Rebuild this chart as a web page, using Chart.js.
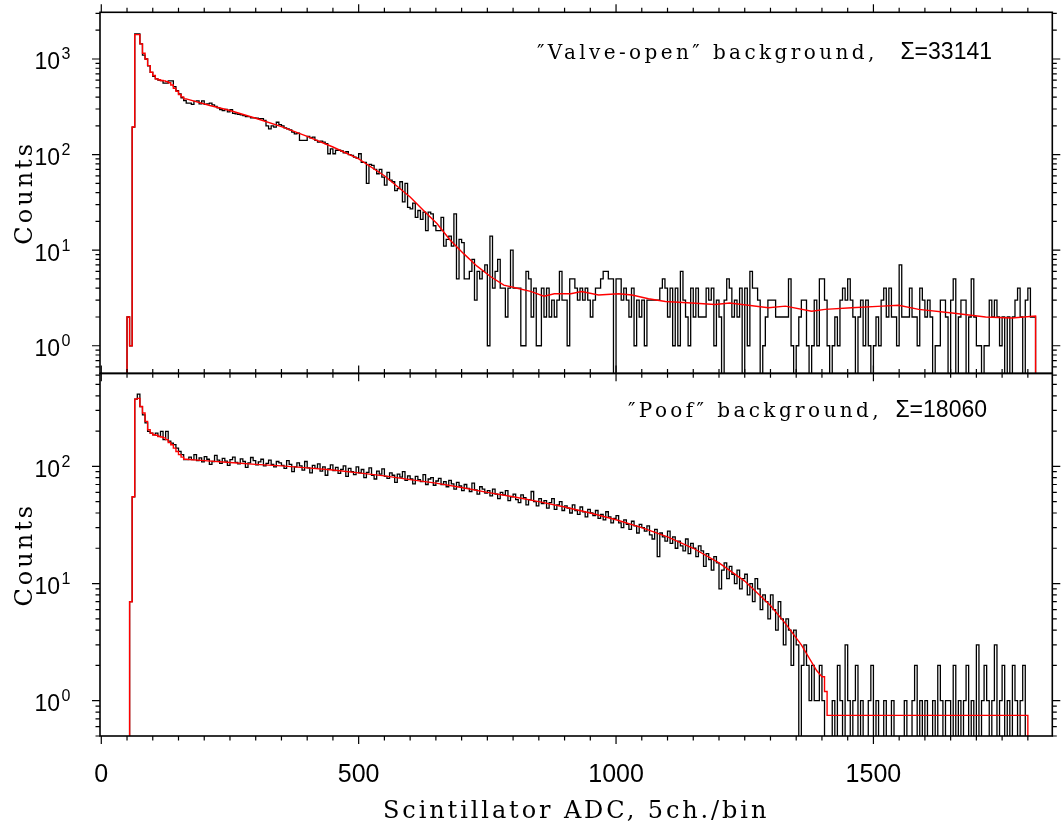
<!DOCTYPE html>
<html>
<head>
<meta charset="utf-8">
<title>Scintillator ADC background spectra</title>
<script src="https://cdn.jsdelivr.net/npm/chart.js@4.4.1/dist/chart.umd.min.js"></script>
<style>
  html, body { margin: 0; padding: 0; background: #fff; }
  #wrap { position: relative; width: 1063px; height: 826px; }
  #wrap canvas { position: absolute; left: 0; top: 0; }
</style>
</head>
<body>
<div id="wrap">
  <canvas id="valveChart" width="1063" height="826"></canvas>
  <canvas id="poofChart" width="1063" height="826"></canvas>
</div>
<script>
// histogram binning (ADC channels, 5 ch per bin)
const binStart = 50;
const binWidth = 5;
// log axis can't show 0, empty bins are drawn below the axis and clipped
const zeroFloor = 0.1;

const xTickValues = [0, 500, 1000, 1500];
const xTitle = 'Scintillator ADC, 5ch./bin';
const yTitle = 'Counts';

const valveLabel = '″Valve-open″ background,';
const valveSum = 'Σ=33141';
const poofLabel = '″Poof″ background,';
const poofSum = 'Σ=18060';

// "Valve-open" background, counts per bin starting at ADC 50
const valveCounts = [
  2, 1, 194, 1830, 1830, 1440, 1100, 1000, 850, 725,
  660, 620, 600, 595, 560, 560, 590, 590, 515, 467,
  432, 393, 368, 346, 346, 335, 360, 365, 340, 365,
  335, 340, 346, 331, 320, 309, 295, 289, 297, 280,
  295, 270, 267, 263, 260, 256, 250, 250, 242, 242,
  240, 238, 238, 228, 200, 186, 200, 194, 218, 206,
  200, 190, 186, 181, 172, 165, 168, 141, 141, 141,
  155, 150, 152, 141, 135, 138, 135, 130, 102, 115,
  102, 111, 111, 109, 104, 107, 100, 98, 94, 92,
  102, 83, 83, 50, 79, 77, 70, 63, 70, 58,
  48, 65, 54, 52, 42, 44, 52, 32, 50, 28,
  27, 31,
  22, 26, 21, 25, 16, 25, 24, 18, 16, 16,
  22, 11, 13, 14, 11, 24, 5, 13, 12, 5,
  5, 6, 8, 3, 6, 5, 6, 7, 1, 14,
  4, 6, 8, 4, 4, 2, 4, 10, 4, 4,
  4, 1, 1, 6, 5, 2, 4, 1, 1, 4,
  2, 4, 2, 3, 2, 3, 6, 3, 3, 1,
  5, 5, 4, 3, 4, 3, 4, 3, 2, 3,
  4, 4, 5, 6, 6, 5, 5, 0, 5, 5,
  3, 4, 3, 2, 4, 1, 3, 2, 3, 1,
  3, 3, 3, 3, 3, 4, 5, 4, 2, 4,
  1, 4, 1, 6, 3, 2, 1, 4, 2, 4,
  2, 2, 2, 4, 3, 4, 1, 3, 2, 0,
  3, 5,
  4, 2, 3, 2, 4, 0, 4, 1, 6, 4,
  4, 3, 0, 1, 2, 3, 3, 3, 2, 2,
  2, 2, 2, 5, 1, 0, 1, 2, 3, 3,
  1, 0, 1, 3, 1, 5, 5, 3, 1, 0,
  1, 2, 1, 3, 4, 3, 5, 3, 2, 0,
  2, 3, 1, 3, 1, 0, 1, 2, 1, 3,
  4, 2,
  4, 2, 2, 1, 7, 2, 2, 2, 4, 2,
  2, 1, 4, 3, 2, 3, 2, 0, 1, 1,
  3, 3, 2, 0, 3, 5, 0, 2, 3, 3,
  0, 2, 5, 2, 1, 1, 0, 1, 1, 3,
  2, 3, 2, 1, 2, 0, 2, 0, 2, 3,
  4, 2, 0, 3, 4, 2, 2
];
// fit: per-bin values over the edge, then sampled points
const valveFitHead = [2, 1, 194, 1800, 1800, 1440, 1150, 1000, 853, 727, 671, 619, 606, 595, 590, 580, 565, 535, 495, 460, 425, 402, 383];
const valveFitX = [165, 211, 250, 300, 350, 400, 450, 500, 550, 600, 626, 652, 678, 704, 730, 756, 782, 808, 834, 860, 880, 912, 933, 966, 1005, 1031, 1063, 1096, 1147, 1192, 1221, 1296, 1329, 1380, 1406, 1458, 1517, 1549, 1588, 1653, 1718, 1769, 1815, 1815];
const valveFitY = [383, 326, 289, 240, 196, 155, 120, 90, 60, 36, 26, 19, 12.7, 9.2, 6.8, 5.3, 4.3, 4.0, 3.7, 3.3, 3.5, 3.5, 3.7, 3.4, 3.5, 3.4, 3.1, 2.9, 2.8, 2.7, 2.8, 2.5, 2.6, 2.3, 2.4, 2.5, 2.6, 2.65, 2.4, 2.2, 2.0, 1.95, 2.05, 0];

// "Poof" background
const poofCounts = [
  0, 7, 55, 375, 414, 324, 275, 235, 199, 192,
  186, 192, 180, 199, 169, 199, 164, 158, 153, 143,
  134, 126, 114, 114, 120, 114, 126,
  112, 118, 109, 121, 115, 104, 110, 124, 113, 106,
  117, 111, 102, 114, 120, 108, 105, 116, 110, 98,
  107, 119, 112, 103, 109, 115, 101, 106, 113, 104,
  99, 110, 107, 102,
  96, 112, 104, 90, 99, 107, 101, 93, 110, 97,
  88, 102, 96, 105, 91, 99, 84, 95, 103, 92,
  98, 87, 94, 101, 82, 96, 90, 85, 99, 88,
  94, 80, 89, 97, 84, 78, 91, 86, 95, 82,
  79, 88, 84, 73, 86, 81, 90, 76, 83, 78,
  71, 82, 77, 74, 85, 70, 78, 80, 69, 75,
  79, 70, 74, 67, 76, 71, 64, 73, 68, 62,
  70, 65, 61, 72, 63, 58, 67, 64, 59, 62,
  56, 64, 58, 53, 60, 57, 62, 51, 55, 58,
  52, 49, 57, 54, 47, 52, 61, 50, 46, 53,
  48, 51, 44, 49, 53, 43, 47, 50, 42, 46,
  44, 40, 47, 42, 39, 45, 41, 37, 43, 40,
  38, 42, 36, 39, 35, 41, 37, 33, 36, 38,
  33, 30, 35, 32, 29, 34, 31, 27, 32, 30,
  28, 31, 26, 24, 29, 17, 27, 25, 23, 28,
  22, 25, 20, 23, 21, 19, 24, 18, 22, 20,
  17, 21, 19, 14, 18, 16, 13, 17, 15, 9,
  13, 15, 11, 14, 12, 10, 13, 9, 11, 12,
  8, 10, 7, 11, 9, 6, 8, 7, 5, 8,
  6, 4, 7, 5, 3, 5, 4, 2, 4, 3,
  0, 2, 3, 2, 1, 2, 1, 1, 2, 1, 0, 0,
  0, 1, 0, 2, 1, 0, 3, 1, 0, 1,
  2, 0, 1, 0, 0, 1, 2, 0, 1, 0,
  0, 1, 0, 0, 1, 0, 0, 0, 0, 1,
  0, 0, 1, 2, 0, 1, 0, 1, 0, 0,
  1, 0, 2, 1, 0, 1, 1, 0, 2, 0,
  1, 0, 1, 2, 0, 1, 0, 3, 0, 1,
  2, 1, 0, 1, 3, 0, 1, 2, 0, 1,
  0, 2, 1, 0, 1, 2, 0
];
const poofFitHead = [0, 7, 55, 375, 380, 324, 285, 242, 205, 192, 186, 184, 180, 178, 175, 169, 160, 153, 143, 134, 126, 120, 115];
const poofFitX = [165, 200, 250, 300, 350, 400, 450, 500, 550, 600, 650, 700, 750, 800, 850, 900, 950, 1000, 1050, 1100, 1150, 1200, 1250, 1300, 1330, 1360, 1390, 1400, 1405, 1405, 1410, 1410, 1800, 1800];
const poofFitY = [115, 112, 108, 104, 101, 97, 93, 88, 83, 77, 72, 66, 60, 55, 50, 45, 40, 35, 30, 25, 20, 15, 10.5, 6.5, 4.5, 3, 1.8, 1.6, 1.6, 1.2, 1.2, 0.75, 0.75, 0];

function floorZero(v) {
  return v > 0 ? v : zeroFloor;
}

function histPoints(counts) {
  const pts = [{x: binStart, y: zeroFloor}];
  counts.forEach((c, i) => pts.push({x: binStart + i * binWidth, y: floorZero(c)}));
  const end = binStart + counts.length * binWidth;
  pts.push({x: end, y: floorZero(counts[counts.length - 1])});
  pts.push({x: end, y: zeroFloor});
  return pts;
}

function fitPoints(head, xs, ys) {
  const pts = [{x: binStart, y: zeroFloor}];
  head.forEach((v, i) => {
    pts.push({x: binStart + i * binWidth, y: floorZero(v)});
    pts.push({x: binStart + (i + 1) * binWidth, y: floorZero(v)});
  });
  xs.forEach((x, i) => pts.push({x: x, y: floorZero(ys[i])}));
  return pts;
}

const SERIF = '"DejaVu Serif", serif';
const SANS = '"Liberation Sans", Arial, sans-serif';

// frame with outward ticks on all four sides, plus the texts
const framePlugin = {
  id: 'frame',
  afterDatasetsDraw(chart, args, opts) {
    const ctx = chart.ctx;
    const a = chart.chartArea;
    const xs = chart.scales.x;
    const ys = chart.scales.y;
    ctx.save();
    ctx.strokeStyle = '#000';
    ctx.fillStyle = '#000';
    ctx.lineWidth = 1.6;
    ctx.strokeRect(a.left, a.top, a.right - a.left, a.bottom - a.top);

    ctx.lineWidth = 1.2;
    ctx.beginPath();
    for (let v = 0; v <= xs.max; v += 50) {
      const px = xs.getPixelForValue(v);
      const len = v % 500 === 0 ? 8 : 4.5;
      ctx.moveTo(px, a.bottom); ctx.lineTo(px, a.bottom + len);
      ctx.moveTo(px, a.top); ctx.lineTo(px, a.top - len);
    }
    const dLo = Math.floor(Math.log10(ys.min));
    const dHi = Math.ceil(Math.log10(ys.max));
    for (let d = dLo; d <= dHi; d++) {
      for (let m = 1; m <= 9; m++) {
        const v = m * Math.pow(10, d);
        if (v < ys.min || v > ys.max) continue;
        const py = ys.getPixelForValue(v);
        const len = m === 1 ? 8 : 4.5;
        ctx.moveTo(a.left, py); ctx.lineTo(a.left - len, py);
        ctx.moveTo(a.right, py); ctx.lineTo(a.right + len, py);
      }
    }
    ctx.stroke();

    // y labels 10^n
    for (let d = dLo; d <= dHi; d++) {
      const v = Math.pow(10, d);
      if (v < ys.min || v > ys.max) continue;
      const py = ys.getPixelForValue(v);
      ctx.textAlign = 'right';
      ctx.font = '23px ' + SANS;
      ctx.fillText('10', a.left - 40, py + 10.5);
      ctx.textAlign = 'left';
      ctx.font = '16px ' + SANS;
      ctx.fillText(String(d), a.left - 38.5, py + 0.5);
    }

    // y title
    ctx.save();
    ctx.translate(32, (a.top + a.bottom) / 2);
    ctx.rotate(-Math.PI / 2);
    ctx.textAlign = 'center';
    ctx.font = '24px ' + SERIF;
    ctx.letterSpacing = '3px';
    ctx.fillText(yTitle, 0, 0);
    ctx.restore();

    // x labels + title
    if (opts.xLabels) {
      ctx.textAlign = 'center';
      ctx.font = '25px ' + SANS;
      xTickValues.forEach(v => ctx.fillText(String(v), xs.getPixelForValue(v), a.bottom + 46));
      ctx.font = '24px ' + SERIF;
      ctx.letterSpacing = '2.9px';
      ctx.fillText(xTitle, (a.left + a.right) / 2, a.bottom + 82);
      ctx.letterSpacing = '0px';
    }

    // annotation
    ctx.textAlign = 'left';
    ctx.font = '20px ' + SERIF;
    ctx.letterSpacing = '3.4px';
    ctx.fillText(opts.note, opts.noteLeft, opts.noteBase);
    ctx.letterSpacing = '0px';
    ctx.textAlign = 'right';
    ctx.font = '23px ' + SANS;
    ctx.fillText(opts.sum, opts.noteRight, opts.noteBase);
    ctx.restore();
  }
};

function makeChart(id, counts, fit, yMin, yMax, padding, frameOpts) {
  return new Chart(document.getElementById(id), {
    type: 'line',
    data: {
      datasets: [{
        label: 'fit',
        data: fit,
        borderColor: '#ff0000',
        borderWidth: 1.4,
        pointRadius: 0,
        tension: 0,
        fill: false
      }, {
        label: 'data',
        data: counts,
        borderColor: '#000000',
        borderWidth: 1.3,
        pointRadius: 0,
        stepped: true,
        fill: false
      }]
    },
    options: {
      responsive: false,
      animation: false,
      events: [],
      layout: { padding: padding },
      plugins: {
        legend: { display: false },
        tooltip: { enabled: false },
        frame: frameOpts
      },
      scales: {
        x: { type: 'linear', min: -2.5, max: 1847.5, display: false },
        y: { type: 'logarithmic', min: yMin, max: yMax, display: false }
      }
    },
    plugins: [framePlugin]
  });
}

makeChart('valveChart', histPoints(valveCounts), fitPoints(valveFitHead, valveFitX, valveFitY),
  0.515, 3080,
  { left: 100, right: 10.7, top: 12.3, bottom: 452.7 },
  { xLabels: false, note: valveLabel, sum: valveSum, noteLeft: 537, noteRight: 992, noteBase: 58.5 });

makeChart('poofChart', histPoints(poofCounts), fitPoints(poofFitHead, poofFitX, poofFitY),
  0.5, 620,
  { left: 100, right: 10.7, top: 373.5, bottom: 90 },
  { xLabels: true, note: poofLabel, sum: poofSum, noteLeft: 628, noteRight: 987, noteBase: 417 });
</script>
</body>
</html>
